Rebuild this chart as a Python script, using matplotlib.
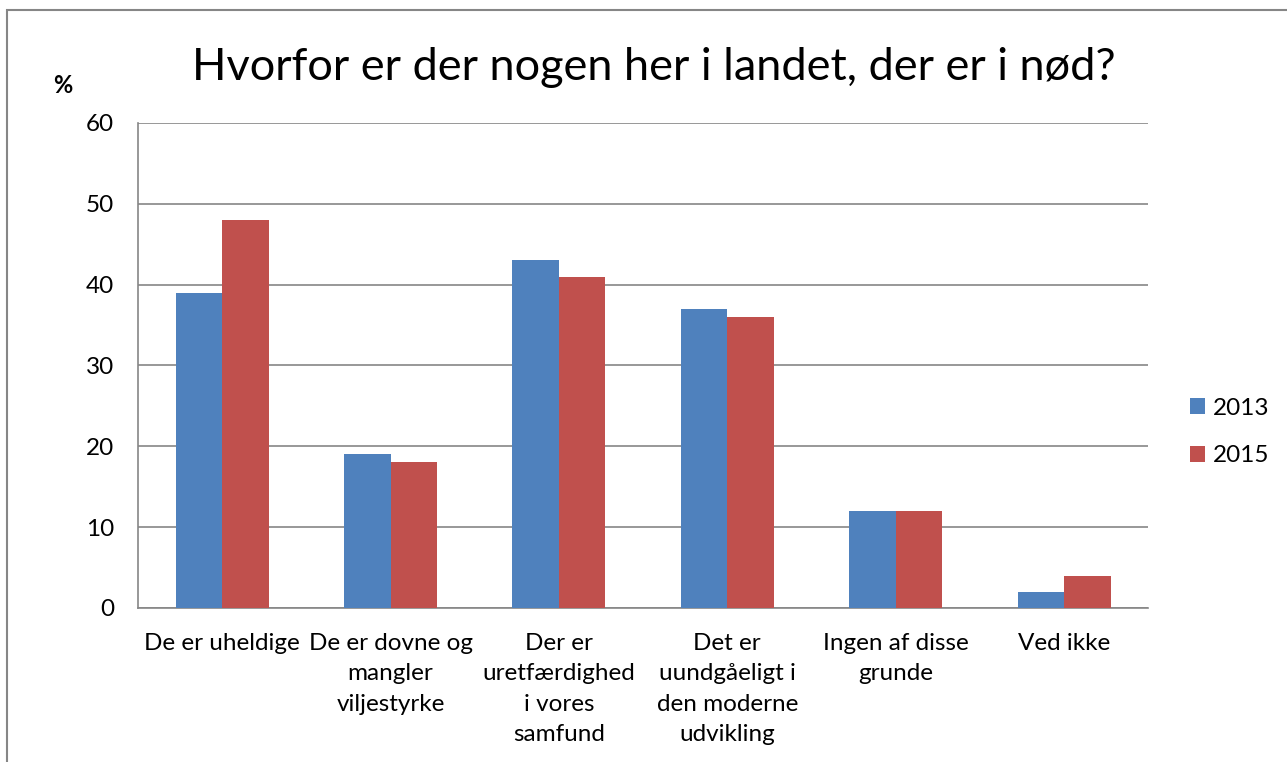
import numpy as np
import matplotlib
matplotlib.use("Agg")
import matplotlib.pyplot as plt
from matplotlib.patches import Rectangle

plt.rcParams['font.family'] = ['Lato', 'DejaVu Sans']

categories = ["De er uheldige", "De er dovne og\nmangler\nviljestyrke",
              "Der er\nuretfærdighed\ni vores\nsamfund",
              "Det er\nuundgåeligt i\nden moderne\nudvikling",
              "Ingen af disse\ngrunde", "Ved ikke"]
values_2013 = [39, 19, 43, 37, 12, 2]
values_2015 = [48, 18, 41, 36, 12, 4]
series_labels = ["2013", "2015"]
yticks = [0, 10, 20, 30, 40, 50, 60]

BLUE = "#4F81BD"
RED = "#C0504D"
GRID = "#868686"

fig = plt.figure(figsize=(12.87, 7.62), dpi=100)
ax = fig.add_axes([0.1072, 0.2021, 0.785, 0.6365])

x = np.arange(len(categories))
w = 0.276
ax.bar(x - w / 2, values_2013, w, color=BLUE, label=series_labels[0], zorder=3)
ax.bar(x + w / 2, values_2015, w, color=RED, label=series_labels[1], zorder=3)

ax.set_xlim(-0.5, len(categories) - 0.5)
ax.set_ylim(0, 60)
ax.set_yticks(yticks)
ax.yaxis.grid(True, color=GRID, linewidth=1.2, zorder=0)
ax.tick_params(axis='both', length=0, labelsize=17.5)
ax.tick_params(axis='y', pad=17)
ax.tick_params(axis='x', pad=18)
ax.set_xticks(x)
ax.set_xticklabels(categories, linespacing=1.55, va='top')
for s in ['top', 'right']:
    ax.spines[s].set_visible(False)
for s in ['left', 'bottom']:
    ax.spines[s].set_color(GRID)
    ax.spines[s].set_linewidth(1.2)

fig.text(0.508, 0.911, "Hvorfor er der nogen her i landet, der er i nød?",
         ha='center', va='center', fontsize=32.5)
fig.text(0.049, 0.888, "%", ha='center', va='center', fontsize=17, fontweight='bold')

ax.legend(loc='center left', bbox_to_anchor=(1.0416, 0.363), frameon=False,
          fontsize=17.5, handlelength=0.62, handleheight=0.62, handletextpad=0.3,
          labelspacing=1.1, borderpad=0, borderaxespad=0)

fig.patches.append(Rectangle((7 / 1287, -0.1), 1.2, 1 - 10 / 762 + 0.1,
                             transform=fig.transFigure, fill=False,
                             edgecolor=GRID, linewidth=1.5))

fig.savefig("out.png", dpi=100)
